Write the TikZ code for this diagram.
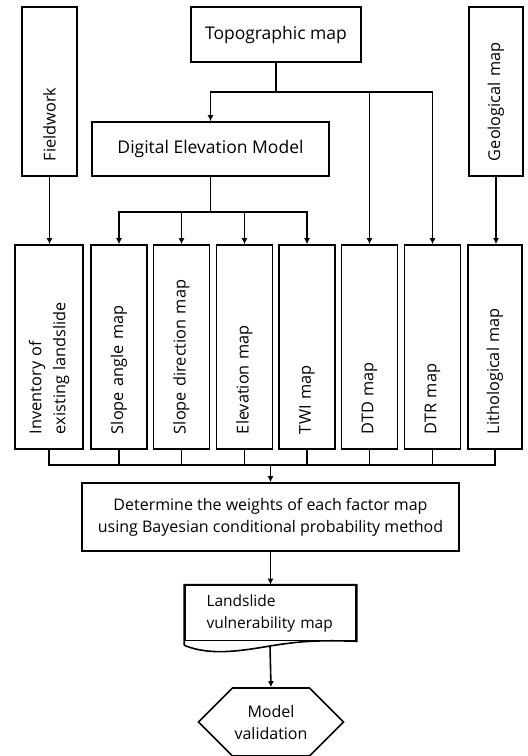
\documentclass[tikz,border=0pt]{standalone}
\usepackage{fontspec}
\setmainfont{Open Sans}
\usetikzlibrary{positioning}
\usetikzlibrary{arrows.meta}
\usetikzlibrary{shapes.symbols}

\begin{document}
\begin{tikzpicture}[x=1pt, y=-1pt, line width=1.6pt,
    box/.style={draw, rectangle, inner sep=2pt, font=\fontsize{16}{22}\selectfont},
    bigbox/.style={box, font=\fontsize{17.5}{22}\selectfont},
    vbox/.style={draw, rectangle, rotate=90, inner xsep=15pt, inner ysep=2pt, align=left, font=\fontsize{16.3}{24}\selectfont},
    factor/.style={vbox, minimum width=204, text width=174, minimum height=56},
    arr/.style={-{Latex[length=6pt,width=6pt]}}]
    \useasboundingbox (0,0) rectangle (528,756);

    % Sources
    \node[bigbox, minimum width=170, minimum height=55] (topo) at (276,34.5) {Topographic map};
    \node[bigbox, minimum width=237, minimum height=54] (dem) at (210.5,149) {Digital Elevation Model};
    \node[vbox, minimum width=169, text width=139, minimum height=55] (field) at (49.5,91.5) {Fieldwork};
    \node[vbox, minimum width=169, text width=139, minimum height=54] (geo) at (496,91.5) {Geological map};

    % Factor maps
    \node[factor, minimum height=68] (inv) at (49,347) {Inventory of\\existing landslide};
    \node[factor] (slope) at (119,347) {Slope angle map};
    \node[factor] (aspect) at (181.5,347) {Slope direction map};
    \node[factor] (elev) at (244.5,347) {Elevation map};
    \node[factor] (twi) at (307,347) {TWI map};
    \node[factor] (dtd) at (369.5,347) {DTD map};
    \node[factor] (dtr) at (432.5,347) {DTR map};
    \node[factor, minimum height=54] (lith) at (495,347) {Lithological map};

    % Weights, result and validation
    \node[box, align=center, minimum width=377, minimum height=68] (weights) at (270.5,517)
        {Determine the weights of each factor map\\using Bayesian conditional probability method};
    \node[box, align=left, minimum width=171, minimum height=55, text width=128,
        font=\fontsize{15.5}{22}\selectfont] (vul) at (270.5,613)
        {Landslide\\vulnerability map};
    \node[box, signal, signal to=west and east, signal pointer angle=90, align=center,
        minimum width=137, minimum height=68] (valid) at (271,722) {Model\\validation};

    % Topographic map branches
    \draw (topo.south) -- ++(0,29) coordinate (tj);
    \draw[arr] (tj) -| (dem.north);
    \draw[arr] (tj) -| (dtd.east);
    \draw[arr] (tj) -| (dtr.east);

    % DEM branches
    \draw (dem.south) -- ++(0,35) coordinate (dj);
    \foreach \f in {slope, aspect, elev, twi}
        \draw[arr] (dj) -| (\f.east);

    % Fieldwork and geology
    \draw[arr] (field.west) -- (field.west |- inv.east);
    \draw[arr] (geo.west) -- (geo.west |- lith.east);

    % Collect factors
    \draw[arr] (weights.north) ++(0,-17) coordinate (bj) -- (weights.north);
    \foreach \f in {inv, slope, aspect, elev, twi, dtd, dtr, lith}
        \draw (\f.west) |- (bj);

    % Document outline
    \draw (vul.south west) ++(0,4) coordinate (vl)
        -- (vul.north west) -- (vul.north east) -- (vul.south east)
        .. controls (320,640) and (300,641) .. (270,646) coordinate (vw)
        .. controls (240,651) and (210,656) .. (vl);
    \draw[arr] (weights.south) -- (weights.south |- vul.north);
    \draw[arr] (vw) -- (valid.north);
\end{tikzpicture}
\end{document}
